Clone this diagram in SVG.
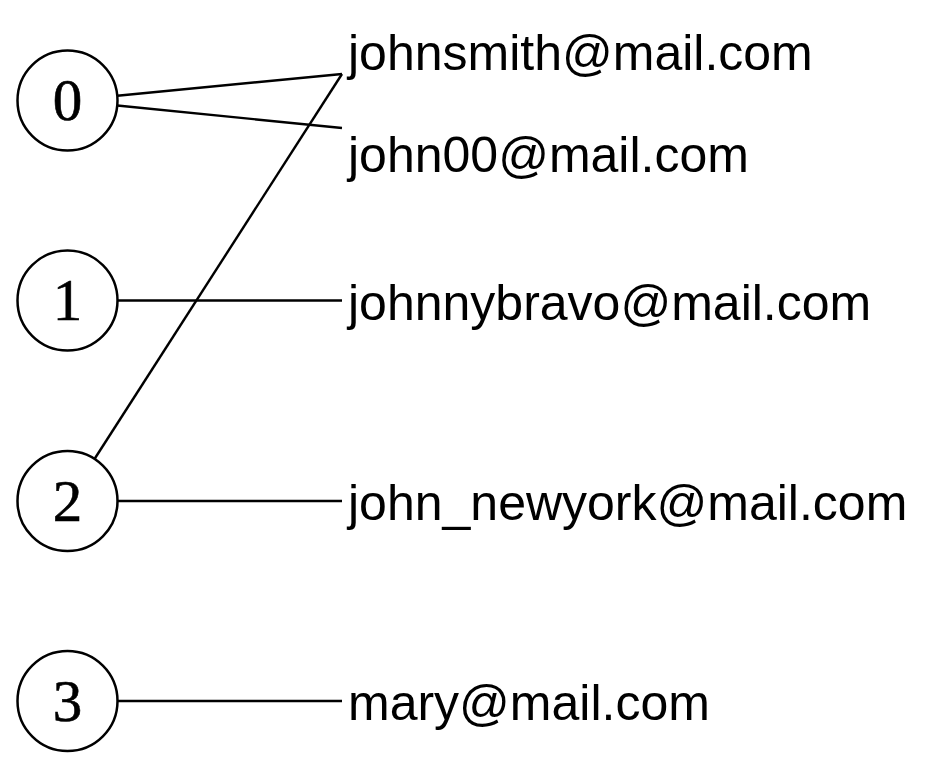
<svg xmlns="http://www.w3.org/2000/svg" width="928" height="770" viewBox="0 0 928 770">
<style>
.node circle{fill:#fff;stroke:#000;stroke-width:2.5}
.node text{font-family:"Liberation Serif","Times New Roman",serif;font-size:59px;text-anchor:middle;fill:#000;stroke:#000;stroke-width:0.6}
.email text{font-family:"Liberation Sans",Arial,sans-serif;font-size:50px;fill:#000}
.edges line{stroke:#000;stroke-width:2.4}
</style>
<rect width="928" height="770" fill="#fff"/>
<g class="edges" id="connectors">
<line x1="117.3" y1="95.7" x2="342" y2="74"/>
<line x1="117.3" y1="105.5" x2="342" y2="128"/>
<line x1="117.5" y1="300.5" x2="342" y2="300.5"/>
<line x1="94.5" y1="459" x2="342" y2="74"/>
<line x1="117.5" y1="501" x2="342" y2="501"/>
<line x1="117.5" y1="701" x2="342" y2="701"/>
</g>
<g class="node" id="n0"><circle cx="67.5" cy="100.5" r="50"/><text x="67.5" y="120">0</text></g>
<g class="node" id="n1"><circle cx="67.5" cy="300.5" r="50"/><text x="67.5" y="320">1</text></g>
<g class="node" id="n2"><circle cx="67.5" cy="501" r="50"/><text x="67.5" y="520.5">2</text></g>
<g class="node" id="n3"><circle cx="67.5" cy="701" r="50"/><text x="67.5" y="720.5">3</text></g>
<g class="email" id="e0"><text x="348" y="70">johnsmith@mail.com</text></g>
<g class="email" id="e1"><text x="348" y="172">john00@mail.com</text></g>
<g class="email" id="e2"><text x="348" y="320">johnnybravo@mail.com</text></g>
<g class="email" id="e3"><text x="348" y="520">john_newyork@mail.com</text></g>
<g class="email" id="e4"><text x="348" y="720">mary@mail.com</text></g>
</svg>
